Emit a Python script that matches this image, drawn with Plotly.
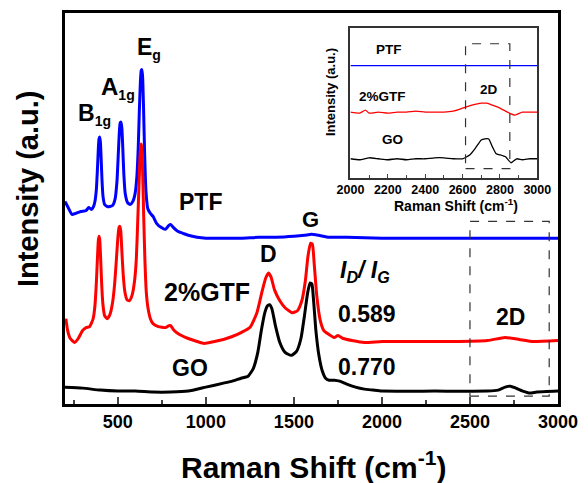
import plotly.graph_objects as go

FONT = "Liberation Sans, Arial, sans-serif"

# ---------------- main spectra (x: Raman shift, y: intensity a.u.) ----------------
ptf_x = [200, 215, 240, 260, 290, 320, 335, 350, 362, 370, 378, 384, 389, 393, 397, 401, 405, 410, 416,
         425, 440, 455, 470, 485, 495, 502, 508, 513, 518, 523, 528, 534, 542, 555, 570, 585, 598, 608,
         616, 622, 628, 633, 637, 641, 646, 652, 660, 670, 685, 700, 720, 745, 770, 790, 800, 815, 840,
         870, 900, 950, 1000, 1100, 1200, 1300, 1400, 1500, 1560, 1600, 1640, 1700, 1800, 2000, 2500,
         2700, 3000]
ptf_y = [204, 199, 191, 192, 194, 195, 198, 196, 199, 204, 216, 236, 256, 267, 269, 264, 249, 226, 209,
         201, 199, 199, 200, 207, 224, 249, 272, 283, 284, 278, 259, 232, 212, 203, 201, 204, 212, 229,
         259, 294, 324, 336, 337, 329, 299, 254, 214, 197, 192, 189, 182, 178, 176, 180, 181, 178, 174,
         172, 170, 168, 167, 167, 167, 168, 168, 169, 170, 171, 170, 168, 168, 167, 167,
         167, 167]

gtf_x = [205, 215, 230, 255, 275, 300, 320, 340, 360, 370, 378, 384, 389, 393, 397, 402, 408, 415,
         425, 440, 455, 470, 482, 492, 500, 507, 512, 517, 523, 530, 540, 552, 565, 580, 595, 605, 613,
         620, 626, 631, 636, 641, 647, 654, 662, 672, 685, 700, 730, 770, 790, 800, 820, 850, 900, 950,
         990, 1050, 1100, 1150, 1200, 1250, 1290, 1320, 1340, 1356, 1370, 1390, 1420, 1450, 1490, 1520,
         1545, 1565, 1580, 1595, 1605, 1615, 1630, 1650, 1670, 1700, 1730, 1750, 1780, 1830, 1900, 2000,
         2200, 2400, 2600, 2700, 2780, 2850, 3000]
gtf_y = [86, 74, 66, 62, 66, 74, 77, 78, 86, 99, 122, 146, 164, 169, 166, 149, 122, 101,
         89, 86, 90, 102, 121, 146, 167, 178, 179, 174, 154, 132, 113, 105, 104, 109, 124, 146, 184,
         219, 249, 262, 259, 234, 189, 144, 112, 96, 86, 81, 78, 77, 79, 79, 74, 70, 66, 63,
         61, 63, 65, 68, 72, 77, 92, 114, 127, 132, 128, 115, 104, 97, 92, 94,
         104, 124, 149, 162, 161, 142, 109, 84, 74, 70, 67, 69, 66, 64, 62, 63,
         63, 63, 64, 67, 65, 63, 64]

go_x = [200, 300, 400, 500, 600, 700, 800, 900, 1000, 1100, 1150, 1200, 1240, 1270, 1295, 1315, 1335,
        1350, 1362, 1375, 1395, 1420, 1450, 1485, 1515, 1540, 1560, 1578, 1592, 1602, 1612, 1625, 1642,
        1660, 1680, 1700, 1730, 1760, 1800, 1850, 1900, 1950, 2000, 2300, 2600, 2660, 2700, 2730, 2760,
        2800, 2840, 2880, 3000]
go_y = [17, 16, 14, 13, 13, 12, 12, 13, 17, 21, 23, 26, 28, 36, 52, 74, 92,
        99, 100, 96, 79, 62, 52, 49, 53, 66, 89, 112, 122, 121, 104, 74, 49,
        34, 26, 24, 24, 23, 20, 17, 15, 14, 13, 13, 13, 14, 17, 18, 16,
        13, 11, 12, 13]

# ---------------- inset spectra ----------------
in_ptf_x = [2000, 2100, 2200, 2300, 2400, 2500, 2600, 2700, 2800, 2900, 3000]
in_ptf_y = [113, 113, 113, 113, 113, 113, 113, 113, 113, 113, 113]

in_gtf_x = [2000, 2050, 2080, 2100, 2150, 2200, 2250, 2300, 2350, 2400, 2450, 2500, 2550, 2600, 2650,
            2700, 2730, 2760, 2800, 2840, 2880, 2920, 2960, 3000]
in_gtf_y = [66, 65, 68, 65, 66, 65, 66, 66, 67, 66, 66, 66, 67, 70, 73,
            75, 75, 73, 70, 66, 63, 66, 66, 66]

in_go_x = [2000, 2050, 2100, 2150, 2200, 2250, 2300, 2350, 2400, 2450, 2500, 2550, 2600, 2640, 2670,
           2700, 2720, 2740, 2760, 2780, 2800, 2830, 2860, 2890, 2920, 2960, 3000]
in_go_y = [19, 18, 20, 19, 18, 19, 18, 19, 19, 20, 20, 19, 19, 23, 30,
           38, 39, 39, 31, 24, 23, 21, 15, 19, 18, 19, 19]

x_ticks = [500, 1000, 1500, 2000, 2500, 3000]
inset_ticks = [2000, 2200, 2400, 2600, 2800, 3000]

fig = go.Figure()
LW = 3
fig.add_trace(go.Scatter(x=ptf_x, y=ptf_y, mode="lines", line=dict(color="#0000FF", width=LW, shape="spline", smoothing=0.5)))
fig.add_trace(go.Scatter(x=gtf_x, y=gtf_y, mode="lines", line=dict(color="#FF0000", width=LW, shape="spline", smoothing=0.5)))
fig.add_trace(go.Scatter(x=go_x, y=go_y, mode="lines", line=dict(color="#000000", width=LW, shape="spline", smoothing=0.5)))

fig.add_trace(go.Scatter(x=in_ptf_x, y=in_ptf_y, mode="lines", xaxis="x2", yaxis="y2",
                         line=dict(color="#0000FF", width=1.3)))
fig.add_trace(go.Scatter(x=in_gtf_x, y=in_gtf_y, mode="lines", xaxis="x2", yaxis="y2",
                         line=dict(color="#FF0000", width=1.3, shape="spline", smoothing=0.5)))
fig.add_trace(go.Scatter(x=in_go_x, y=in_go_y, mode="lines", xaxis="x2", yaxis="y2",
                         line=dict(color="#000000", width=1.3, shape="spline", smoothing=0.5)))

bold = dict(family=FONT, color="black", weight="bold")

fig.update_layout(
    width=588, height=483,
    margin=dict(l=65, r=22, t=10, b=79),
    paper_bgcolor="white", plot_bgcolor="white",
    showlegend=False,
    xaxis=dict(range=[200, 3000], tickvals=x_ticks, ticks="inside", ticklen=7, tickwidth=2,
               minor=dict(ticks="inside", ticklen=4, tickwidth=2, dtick=250, tick0=0),
               showline=True, linewidth=2.5, linecolor="black", mirror=True, showgrid=False, zeroline=False,
               tickfont=dict(size=18, **bold)),
    yaxis=dict(range=[0, 394], showticklabels=False, ticks="", showline=True, linewidth=2.5,
               linecolor="black", mirror=True, showgrid=False, zeroline=False),
    xaxis2=dict(domain=[0.579, 0.958], anchor="y2", range=[2000, 3000], tickvals=inset_ticks,
                ticks="inside", ticklen=4, tickwidth=1.2,
                minor=dict(ticks="inside", ticklen=2.5, tickwidth=1.2, dtick=100, tick0=0),
                showline=True, linewidth=1.5, linecolor="#333333", mirror=True, showgrid=False, zeroline=False,
                tickfont=dict(size=12.5, **bold)),
    yaxis2=dict(domain=[0.579, 0.962], anchor="x2", range=[0, 151], showticklabels=False, ticks="",
                showline=True, linewidth=1.5, linecolor="#333333", mirror=True, showgrid=False, zeroline=False),
)

def title(text, x, y, size, angle=0):
    fig.add_annotation(text=text, xref="paper", yref="paper", x=x, y=y, textangle=angle,
                       showarrow=False, xanchor="center", yanchor="middle", font=dict(size=size, **bold))

# main axis titles
title("Raman Shift (cm<sup>-1</sup>)", 0.505, -0.155, 30)
title("Intensity (a.u.)", -0.076, 0.551, 29, -90)
# inset axis titles
title("Raman Shift (cm<sup>-1</sup>)", 0.794, 0.508, 14)
title("Intensity (a.u.)", 0.539, 0.797, 13, -90)

# dashed boxes marking the 2D region
fig.add_shape(type="rect", xref="x", yref="y", x0=2500, x1=2950, y0=8, y1=184,
              line=dict(color="#333333", width=1.2, dash="dash"))
fig.add_shape(type="rect", xref="x2", yref="y2", x0=2616, x1=2853, y0=9, y1=135,
              line=dict(color="#333333", width=1.2, dash="dash"))

def note(text, x, y, size, xref="x", yref="y"):
    fig.add_annotation(text=text, x=x, y=y, xref=xref, yref=yref, showarrow=False,
                       font=dict(size=size, **bold), xanchor="center", yanchor="middle")

SUB = "<sub><span style='font-size:14px'>%s</span></sub>"
note("B" + SUB % "1g", 368, 292, 23)
note("A" + SUB % "1g", 502, 318, 24)
note("E" + SUB % "g", 675, 358, 23)
note("PTF", 971, 204, 23)
note("2%GTF", 1005, 113, 25)
note("GO", 910, 36, 23)
note("D", 1357, 151, 23)
note("G", 1597, 186, 22)
note("<i>I<sub>D</sub>/ I<sub>G</sub></i>", 1905, 134, 23)
note("0.589", 1916, 91, 23)
note("0.770", 1916, 37, 23)
note("2D", 2732, 88, 23)

note("PTF", 2205, 129, 13.5, "x2", "y2")
note("2%GTF", 2172, 82, 13.5, "x2", "y2")
note("GO", 2225, 38, 13.5, "x2", "y2")
note("2D", 2740, 89, 13.5, "x2", "y2")

fig.write_html("out.html", config={"displayModeBar": False},
               post_script="document.body.style.margin='0';document.body.style.overflow='hidden';")
